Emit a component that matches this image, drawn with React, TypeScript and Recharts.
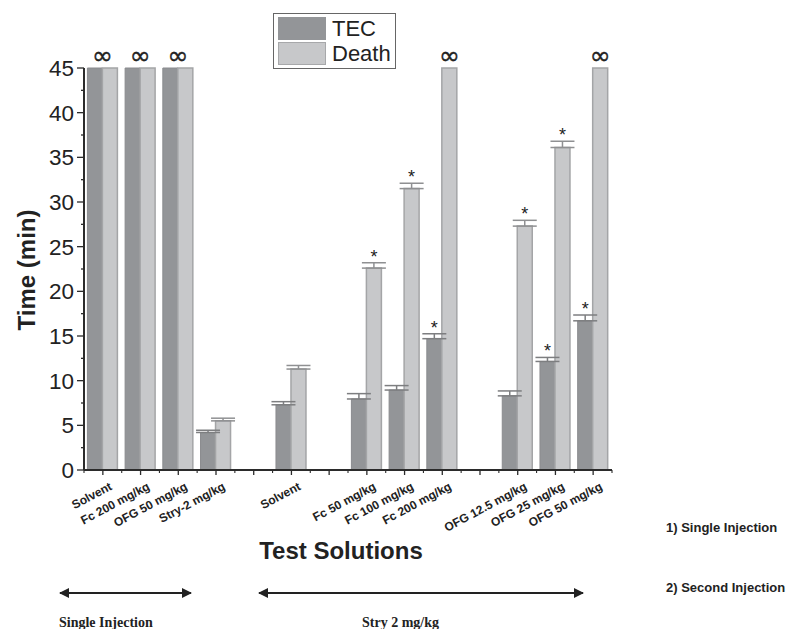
import React from 'react';
import { BarChart, Bar, XAxis, YAxis, ErrorBar, LabelList, Legend } from 'recharts';

// groups: single injection, then second injection after Stry 2 mg/kg ('' = empty slot)
const categories = [
    'Solvent', 'Fc 200 mg/kg', 'OFG 50 mg/kg', 'Stry-2 mg/kg', '',
    'Solvent', '', 'Fc 50 mg/kg', 'Fc 100 mg/kg', 'Fc 200 mg/kg', '',
    'OFG 12.5 mg/kg', 'OFG 25 mg/kg', 'OFG 50 mg/kg',
];
const tecValues = [45, 45, 45, 4.2, null, 7.3, null, 7.95, 8.95, 14.7, null, 8.3, 12.15, 16.7];
const deathValues = [45, 45, 45, 5.5, null, 11.3, null, 22.6, 31.5, 45, null, 27.3, 36.1, 45];
const tecErrors = [null, null, null, 0.25, null, 0.35, null, 0.6, 0.5, 0.55, null, 0.55, 0.45, 0.65];
const deathErrors = [null, null, null, 0.3, null, 0.4, null, 0.6, 0.6, null, null, 0.65, 0.7, null];
// ∞ = no convulsion / survived, * = significant
const tecMarks = ['∞', '∞', '∞', '', '', '', '', '', '', '*', '', '', '*', '*'];
const deathMarks = ['', '', '', '', '', '', '', '*', '*', '∞', '', '*', '*', '∞'];
const yTicks = [0, 2.5, 5, 7.5, 10, 12.5, 15, 17.5, 20, 22.5, 25, 27.5, 30, 32.5, 35, 37.5, 40, 42.5, 45];

const data = categories.map((name, i) => ({
    name,
    tec: tecValues[i],
    death: deathValues[i],
    tecErr: tecErrors[i] == null ? null : [0, tecErrors[i]],
    deathErr: deathErrors[i] == null ? null : [0, deathErrors[i]],
    // mark | error | value, unpacked by the label renderer
    tecMark: `${tecMarks[i]}|${tecErrors[i] ?? 0}|${tecValues[i] ?? 0}`,
    deathMark: `${deathMarks[i]}|${deathErrors[i] ?? 0}|${deathValues[i] ?? 0}`,
}));

const FONT = '"Liberation Sans", Arial, sans-serif';
const AXIS = '#2b2b2b';

const YTick = (props: any) => {
    const { x, y, payload } = props;
    const major = payload.value % 5 === 0;
    return (
        <g>
            <line x1={x} x2={x - (major ? 7 : 3)} y1={y} y2={y} stroke={AXIS} strokeWidth={1.3} />
            {major && (
                <text x={x - 10} y={y} dy={8} textAnchor="end" fontFamily={FONT} fontSize={22.5} fill="#222">
                    {payload.value}
                </text>
            )}
        </g>
    );
};

const XTick = (props: any) => {
    const { x, y, payload, index, visibleTicksCount, width } = props;
    const half = payload.offset ?? (width / visibleTicksCount) / 2;
    const last = index === visibleTicksCount - 1;
    return (
        <g>
            <line x1={x} x2={x} y1={y} y2={y + 5} stroke={AXIS} strokeWidth={1.3} />
            <line x1={x - half} x2={x - half} y1={y} y2={y + 3} stroke={AXIS} strokeWidth={1.1} />
            {last && <line x1={x + half} x2={x + half} y1={y} y2={y + 3} stroke={AXIS} strokeWidth={1.1} />}
            {payload.value && (
                <text
                    x={x + 10}
                    y={y + 19}
                    textAnchor="end"
                    transform={`rotate(-28, ${x + 10}, ${y + 19})`}
                    fontFamily={FONT}
                    fontSize={12}
                    fontWeight="bold"
                    fill="#222"
                >
                    {payload.value}
                </text>
            )}
        </g>
    );
};

const markRenderer = (infAtGroupCenter: boolean) => (props: any) => {
    const box = props.viewBox ?? props;
    const { x, y, width, height } = box;
    const [mark, errStr, valStr] = String(props.value).split('|');
    if (!mark) return null;
    if (mark === '∞') {
        const cx = infAtGroupCenter ? x + width : x + width / 2;
        return (
            <text x={cx} y={y - 4} textAnchor="middle" fontFamily='"DejaVu Sans", sans-serif' fontSize={25} fill="#222" stroke="#222" strokeWidth={0.4}>
                ∞
            </text>
        );
    }
    // star sits just above the error cap
    const errPx = Number(errStr) * (height / Number(valStr));
    return (
        <text x={x + width / 2} y={y - errPx} textAnchor="middle" fontFamily={FONT} fontSize={18} fill="#222">
            *
        </text>
    );
};

const renderLegend = () => (
    <div style={{ border: '1px solid #666', background: '#fff', padding: '2px 4px', width: 113, fontFamily: FONT, fontSize: 22, color: '#222' }}>
        <div style={{ display: 'flex', alignItems: 'center', height: 25 }}>
            <span style={{ display: 'inline-block', width: 48, height: 23, background: '#939598', marginRight: 6 }} />
            TEC
        </div>
        <div style={{ display: 'flex', alignItems: 'center', height: 25 }}>
            <span style={{ display: 'inline-block', width: 46, height: 21, background: '#c7c8ca', border: '1px solid #a7a8aa', marginRight: 6 }} />
            Death
        </div>
    </div>
);

export default function App() {
    return (
        <div style={{ position: 'absolute', left: 0, top: 0, width: 786, height: 629, background: '#fff' }}>
            <BarChart
                width={786}
                height={629}
                data={data}
                margin={{ top: 68, right: 174, bottom: 99, left: 0 }}
                barCategoryGap={3.4}
                barGap={0}
            >
                <XAxis
                    dataKey="name"
                    interval={0}
                    height={60}
                    tickSize={0}
                    tickMargin={0}
                    tick={<XTick />}
                    axisLine={{ stroke: AXIS, strokeWidth: 2 }}
                    tickLine={false}
                />
                <YAxis
                    type="number"
                    domain={[0, 45]}
                    ticks={yTicks}
                    interval={0}
                    width={84}
                    tickSize={0}
                    tickMargin={0}
                    tick={<YTick />}
                    axisLine={{ stroke: AXIS, strokeWidth: 2 }}
                    tickLine={false}
                />
                <Legend
                    layout="vertical"
                    align="center"
                    verticalAlign="middle"
                    content={renderLegend}
                    wrapperStyle={{ position: 'absolute', left: 273, top: 13, width: 'auto' }}
                />
                <Bar dataKey="tec" name="TEC" fill="#939598" stroke="#8a8b8e" strokeWidth={1} isAnimationActive={false}>
                    <ErrorBar dataKey="tecErr" width={12} stroke="#7d7e80" strokeWidth={1.5} />
                    <LabelList dataKey="tecMark" content={markRenderer(true)} />
                </Bar>
                <Bar dataKey="death" name="Death" fill="#c7c8ca" stroke="#a4a5a7" strokeWidth={1.5} isAnimationActive={false}>
                    <ErrorBar dataKey="deathErr" width={12} stroke="#8f9092" strokeWidth={1.5} />
                    <LabelList dataKey="deathMark" content={markRenderer(false)} />
                </Bar>
            </BarChart>
            <svg width={786} height={629} style={{ position: 'absolute', left: 0, top: 0, pointerEvents: 'none' }}>
                <defs>
                    <marker id="head" viewBox="0 0 10 10" refX={9} refY={5} markerWidth={5} markerHeight={5} orient="auto-start-reverse">
                        <path d="M0,0 L10,5 L0,10 z" fill="#222" />
                    </marker>
                </defs>
                <text x={0} y={0} transform="translate(35, 270) rotate(-90)" textAnchor="middle" fontFamily={FONT} fontWeight="bold" fontSize={24} fill="#222">
                    Time (min)
                </text>
                <text x={341} y={559} textAnchor="middle" fontFamily={FONT} fontWeight="bold" fontSize={24} fill="#222">
                    Test Solutions
                </text>
                <text x={666} y={532} fontFamily={FONT} fontWeight="bold" fontSize={13} fill="#222">1) Single Injection</text>
                <text x={666} y={592} fontFamily={FONT} fontWeight="bold" fontSize={13} fill="#222">2) Second Injection</text>
                <line x1={60} x2={191} y1={593} y2={593} stroke="#222" strokeWidth={2} markerStart="url(#head)" markerEnd="url(#head)" />
                <line x1={259} x2={583} y1={593} y2={593} stroke="#222" strokeWidth={2} markerStart="url(#head)" markerEnd="url(#head)" />
                <text x={59} y={627} fontFamily='"Liberation Serif", serif' fontWeight="bold" fontSize={14} fill="#222">Single Injection</text>
                <text x={362} y={627} fontFamily='"Liberation Serif", serif' fontWeight="bold" fontSize={14} fill="#222">Stry 2 mg/kg</text>
            </svg>
        </div>
    );
}
